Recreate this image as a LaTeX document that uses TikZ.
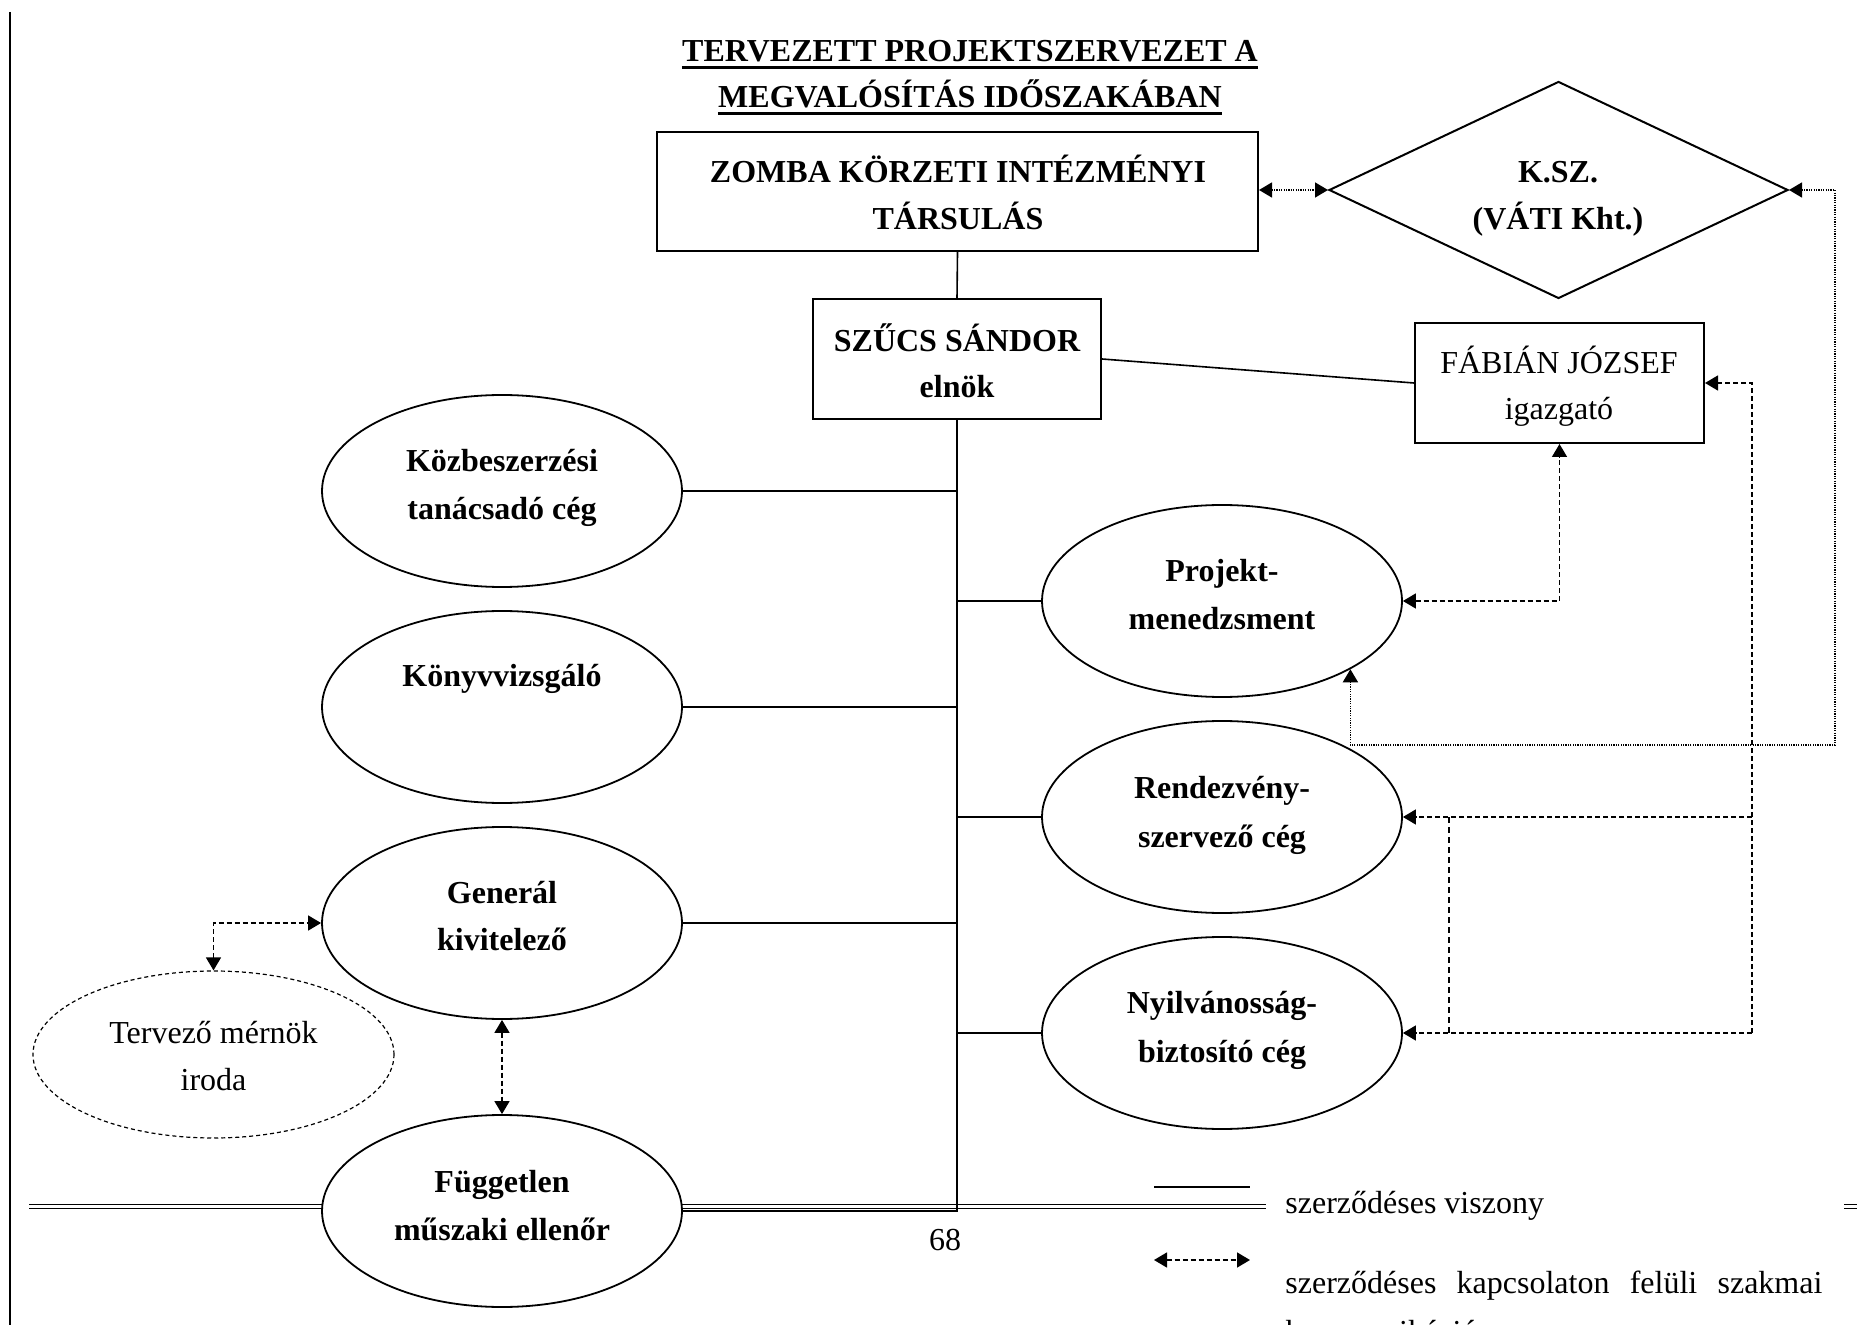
\documentclass[tikz,border=0pt]{standalone}
\usepackage{fontspec}
\setmainfont{Liberation Serif}
\usetikzlibrary{shapes.geometric,arrows.meta,calc}
\begin{document}
\begin{tikzpicture}[x=0.5pt,y=-0.5pt,
  font=\fontsize{16pt}{19pt}\selectfont,
  every node/.style={inner sep=0pt},
  >={Triangle[length=6.5pt,width=7.5pt]},
  txt/.style={anchor=base},
  btxt/.style={anchor=base,font=\fontsize{16pt}{19pt}\selectfont\bfseries},
  rbox/.style={draw,line width=1pt,fill=white,rectangle},
  ell/.style={draw,line width=0.9pt,fill=white,ellipse,minimum width=180pt,minimum height=96pt},
  conn/.style={line width=0.8pt},
  dsh/.style={line width=0.75pt,dash pattern=on 2.5pt off 1.5pt},
  dshl/.style={line width=0.6pt,dash pattern=on 3pt off 2pt},
  dtt/.style={line width=0.75pt,dash pattern=on 0.6pt off 0.6pt},
  rule/.style={line width=0.75pt}
]
\useasboundingbox (0,0) rectangle (1857,1325);
\clip (0,0) rectangle (1857,1325);
\fill[white] (0,0) rectangle (1857,1325);

% page rules
\coordinate (lv1) at (10,12);
\coordinate (lv2) at (10,1325);
\draw[line width=1pt] (lv1) -- (lv2);
\coordinate (fa1) at (29,1204.5);
\coordinate (fa2) at (1266,1204.5);
\coordinate (fb1) at (29,1208.5);
\coordinate (fb2) at (1266,1208.5);
\coordinate (fc1) at (1844,1204.5);
\coordinate (fc2) at (1857,1204.5);
\coordinate (fd1) at (1844,1208.5);
\coordinate (fd2) at (1857,1208.5);
\draw[rule] (fa1) -- (fa2) (fb1) -- (fb2) (fc1) -- (fc2) (fd1) -- (fd2);

% title
\node[btxt] (t1) at (970,62) {TERVEZETT PROJEKTSZERVEZET A};
\node[btxt] (t2) at (970,108) {MEGVALÓSÍTÁS IDŐSZAKÁBAN};
\draw[line width=1.5pt] ([yshift=-2.6pt]t1.base west) -- ([yshift=-2.6pt]t1.base east);
\draw[line width=1.5pt] ([yshift=-2.8pt]t2.base west) -- ([yshift=-2.8pt]t2.base east);

% boxes
\node[rbox,minimum width=300.5pt,minimum height=59.5pt] (zomba) at (957.5,191.5) {};
\node[btxt] (zomba1) at (958,183) {ZOMBA KÖRZETI INTÉZMÉNYI};
\node[btxt] (zomba2) at (958,230) {TÁRSULÁS};

\node[draw,line width=1pt,fill=white,diamond,minimum width=229.5pt,minimum height=108.5pt] (ksz) at (1558.5,190) {};
\node[btxt] (ksz1) at (1558,183) {K.SZ.};
\node[btxt] (ksz2) at (1558,230) {(VÁTI Kht.)};

\node[rbox,minimum width=144pt,minimum height=60pt] (szucs) at (957,359) {};
\node[btxt] (szucs1) at (957,352) {SZŰCS SÁNDOR};
\node[btxt] (szucs2) at (957,398) {elnök};

\node[rbox,minimum width=144.5pt,minimum height=60pt] (fabian) at (1559.5,383) {};
\node[txt] (fabian1) at (1559,374) {FÁBIÁN JÓZSEF};
\node[txt] (fabian2) at (1559,420) {igazgató};

% solid connectors
\coordinate (trunkend) at (957,1212);
\draw[conn] (zomba.south) -- (szucs.north);
\draw[conn] (szucs.east) -- (fabian.west);
\draw[conn] (szucs.south) -- (trunkend);

% ellipses left
\node[ell] (kozb) at (502,491) {};
\node[btxt] (kozb1) at (502,472) {Közbeszerzési};
\node[btxt] (kozb2) at (502,520) {tanácsadó cég};

\node[ell] (konyv) at (502,707) {};
\node[btxt] (konyv1) at (502,687) {Könyvvizsgáló};

\node[ell] (gen) at (502,923) {};
\node[btxt] (gen1) at (502,903) {Generál};
\node[btxt] (gen2) at (502,950) {kivitelező};

\node[ell] (fugg) at (502,1211) {};
\node[btxt] (fugg1) at (502,1192) {Független};
\node[btxt] (fugg2) at (502,1240) {műszaki ellenőr};

\node[draw,ellipse,fill=white,line width=0.6pt,dash pattern=on 2pt off 1.5pt,minimum width=180.5pt,minimum height=83.5pt] (terv) at (213.5,1054.5) {};
\node[txt] (terv1) at (213.5,1043) {Tervező mérnök};
\node[txt] (terv2) at (213.5,1090) {iroda};

% ellipses right
\node[ell] (proj) at (1222,601) {};
\node[btxt] (proj1) at (1222,582) {Projekt-};
\node[btxt] (proj2) at (1222,630) {menedzsment};

\node[ell] (rend) at (1222,817) {};
\node[btxt] (rend1) at (1222,798) {Rendezvény-};
\node[btxt] (rend2) at (1222,847) {szervező cég};

\node[ell] (nyil) at (1222,1033) {};
\node[btxt] (nyil1) at (1222,1013) {Nyilvánosság-};
\node[btxt] (nyil2) at (1222,1062) {biztosító cég};

% branches
\draw[conn] (kozb.east) -- (kozb.east -| trunkend);
\draw[conn] (konyv.east) -- (konyv.east -| trunkend);
\draw[conn] (gen.east) -- (gen.east -| trunkend);
\draw[conn] (fugg.east) -- (fugg.east -| trunkend);
\draw[conn] (proj.west) -- (proj.west -| trunkend);
\draw[conn] (rend.west) -- (rend.west -| trunkend);
\draw[conn] (nyil.west) -- (nyil.west -| trunkend);

% dotted connectors
\draw[dtt,<->] (ksz.west -| zomba.east) -- (ksz.west);
\coordinate (dotR) at (1835,745);
\draw[dtt,<->] (ksz.east) -| (dotR) -| (proj.-28.6);

% dashed connectors
\draw[dsh,<->] (proj.east) -| (fabian.south);
\coordinate (dR) at (1752,1033);
\coordinate (dL) at (1449,1033);
\draw[dsh,->] (dR) |- (fabian.east);
\draw[dsh,->] (rend.east -| dR) -- (rend.east);
\draw[dsh,->] (dR) -- (nyil.east);
\draw[dshl] (rend.east -| dL) -- (dL);
\draw[dsh,<->] (terv.north) |- (gen.west);
\draw[dsh,<->] (gen.south) -- (fugg.north);

% legend
\coordinate (lga) at (1154,1187);
\coordinate (lgb) at (1250,1187);
\draw[conn] (lga) -- (lgb);
\node[txt,anchor=base west] (lg1) at (1285,1213) {szerződéses viszony};
\coordinate (lgc) at (1154,1260);
\coordinate (lgd) at (1250,1260);
\draw[dsh,<->] (lgc) -- (lgd);
\node[txt,anchor=base west] (lg2) at (1285,1293) {\makebox[268.5pt][s]{szerződéses kapcsolaton felüli szakmai}};
\node[txt,anchor=base west] (lg3) at (1285,1342) {kommunikáció};

% page number
\node[txt] (pnum) at (945,1250) {68};
\end{tikzpicture}
\end{document}
